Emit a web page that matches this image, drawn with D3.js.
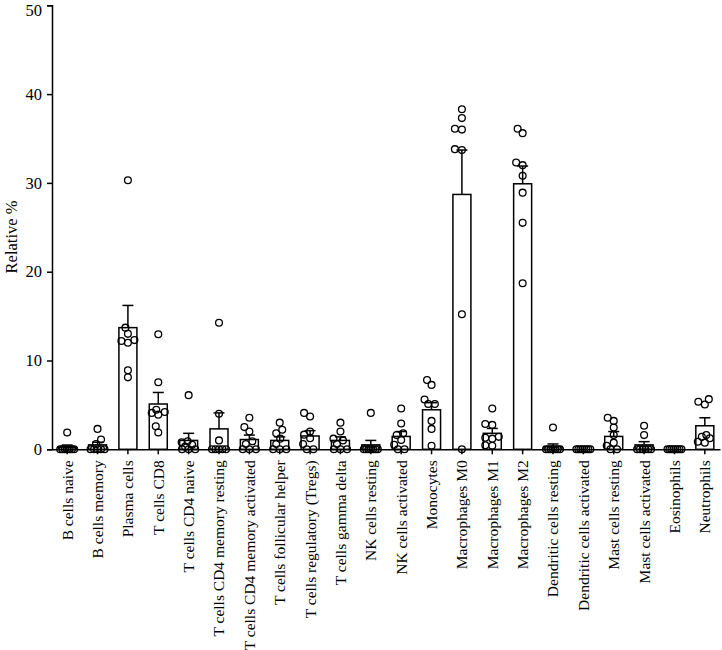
<!DOCTYPE html>
<html>
<head>
<meta charset="utf-8">
<script src="https://cdn.jsdelivr.net/npm/d3@7/dist/d3.min.js"></script>
<style>
  html, body { margin: 0; padding: 0; background: #fff; }
  svg { display: block; }
  text { font-family: "Liberation Serif", "Times New Roman", serif; fill: #000; }
</style>
</head>
<body>
<svg id="chart" width="722" height="650"></svg>
<script>
const categories = [
  "B cells naive", "B cells memory", "Plasma cells", "T cells CD8", "T cells CD4 naive",
  "T cells CD4 memory resting", "T cells CD4 memory activated", "T cells follicular helper",
  "T cells regulatory (Tregs)", "T cells gamma delta", "NK cells resting", "NK cells activated",
  "Monocytes", "Macrophages M0", "Macrophages M1", "Macrophages M2", "Dendritic cells resting",
  "Dendritic cells activated", "Mast cells resting", "Mast cells activated", "Eosinophils", "Neutrophils"
];

const means = [0.24, 0.5, 13.7, 5.1, 1.0, 2.3, 1.1, 1.0, 1.5, 1.0, 0.5, 1.45, 4.45, 28.7, 1.8, 29.9, 0.3, 0, 1.45, 0.5, 0, 2.65];
const sems  = [0.24, 0.3, 2.5, 1.3, 0.8, 1.8, 0.5, 0.4, 0.6, 0.4, 0.5, 0.55, 0.8, 5.0, 0.55, 2.0, 0.3, 0, 0.55, 0.36, 0, 0.9];

const points = [
  [1.9, 0, 0, 0, 0, 0, 0, 0],
  [2.3, 1.1, 0.6, 0, 0, 0, 0, 0],
  [30.3, 13.7, 13.0, 12.3, 12.2, 12.0, 8.9, 8.1],
  [12.95, 7.55, 4.45, 4.2, 3.9, 4.1, 2.6, 1.9],
  [6.1, 0.9, 0.8, 0.5, 0.3, 0, 0, 0],
  [14.25, 4.0, 1.0, 0, 0, 0, 0, 0],
  [3.55, 2.5, 2.0, 0.9, 0.6, 0, 0, 0],
  [3.0, 2.2, 1.8, 1.2, 0.6, 0, 0, 0],
  [4.1, 3.7, 2.0, 1.65, 1.25, 0.6, 0, 0],
  [3.0, 2.0, 1.2, 1.0, 0.6, 0, 0, 0],
  [4.1, 0, 0, 0, 0, 0, 0, 0],
  [4.6, 2.9, 1.8, 1.6, 1.05, 0.5, 0, 0],
  [7.8, 7.25, 5.6, 5.1, 5.1, 3.2, 2.3, 0.4],
  [38.3, 37.3, 36.0, 36.1, 33.7, 33.8, 15.2, 0],
  [4.6, 2.85, 2.75, 1.4, 1.3, 1.2, 0.45, 0.4],
  [35.6, 36.1, 32.0, 32.3, 30.8, 28.9, 25.5, 18.7],
  [2.45, 0, 0, 0, 0, 0, 0, 0],
  [0, 0, 0, 0, 0, 0, 0, 0],
  [3.55, 3.2, 2.45, 1.6, 0.75, 0.4, 0, 0],
  [2.65, 1.6, 0, 0, 0, 0, 0, 0],
  [0, 0, 0, 0, 0, 0, 0, 0],
  [5.65, 5.35, 5.05, 1.6, 1.4, 1.25, 0.85, 0.75]
];

const yTicks = [0, 10, 20, 30, 40, 50];
const yLabel = "Relative %";

const svg = d3.select("#chart");
const plotLeft = 52, plotRight = 720, plotTop = 5.3, plotBottom = 449.3;

const x = d3.scaleBand().domain(categories).range([plotLeft, plotRight]).paddingInner(0.4).paddingOuter(0.2);
const y = d3.scaleLinear().domain([0, 50]).range([plotBottom, plotTop]);

const cx = c => x(c) + x.bandwidth() / 2;
const barW = 18;
const r = 3.4;

// bars
svg.append("g").selectAll("rect").data(categories).join("rect")
  .attr("x", c => cx(c) - barW / 2)
  .attr("width", barW)
  .attr("y", (c, i) => y(means[i]))
  .attr("height", (c, i) => y(0) - y(means[i]))
  .attr("fill", "#fff")
  .attr("stroke", "#000")
  .attr("stroke-width", 1.5);

// error bars (upper only)
const eb = svg.append("g").attr("stroke", "#000").attr("stroke-width", 1.5);
categories.forEach((c, i) => {
  if (sems[i] <= 0) return;
  eb.append("line").attr("x1", cx(c)).attr("x2", cx(c))
    .attr("y1", y(means[i])).attr("y2", y(means[i] + sems[i]));
  eb.append("line").attr("x1", cx(c) - 5.5).attr("x2", cx(c) + 5.5)
    .attr("y1", y(means[i] + sems[i])).attr("y2", y(means[i] + sems[i]));
});

// beeswarm-like placement
function swarm(vals) {
  const d = 6.6, maxW = 7;
  const placed = [];
  const sorted = vals.map(v => ({ v, py: y(v) })).sort((a, b) => a.v - b.v);
  const groups = d3.groups(sorted, p => p.v);
  groups.forEach(([v, arr]) => {
    const n = arr.length;
    if (n > 1) {
      const sp = Math.min(d, (2 * maxW) / (n - 1));
      arr.forEach((p, k) => { p.dx = (k - (n - 1) / 2) * sp; placed.push(p); });
    } else {
      const p = arr[0];
      let best = 0, bestScore = -Infinity;
      for (let o = -maxW; o <= maxW + 0.001; o += 0.5) {
        let minD = Infinity;
        placed.forEach(q => { const dd = Math.hypot(o - q.dx, p.py - q.py); if (dd < minD) minD = dd; });
        const score = minD >= d ? 1000 - Math.abs(o) : minD - Math.abs(o) * 0.01;
        if (score > bestScore) { bestScore = score; best = o; }
      }
      p.dx = best; placed.push(p);
    }
  });
  return placed;
}

const pg = svg.append("g");
categories.forEach((c, i) => {
  const pts = swarm(points[i]);
  pg.append("g").selectAll("circle").data(pts).join("circle")
    .attr("cx", p => cx(c) + p.dx)
    .attr("cy", p => p.py)
    .attr("r", r)
    .attr("fill", "none")
    .attr("stroke", "#000")
    .attr("stroke-width", 1.3);
});

// y axis
const yAxis = svg.append("g").attr("transform", `translate(${plotLeft},0)`)
  .call(d3.axisLeft(y).tickValues(yTicks).tickSize(5).tickPadding(5));
yAxis.select(".domain").attr("stroke-width", 1.5);
yAxis.selectAll(".tick line").attr("stroke-width", 1.5);
yAxis.selectAll("text").style("font-family", '"Liberation Serif", serif').style("font-size", "16.5px")
  .attr("dy", d => d === 50 ? "0.6em" : "0.32em");

// x axis
const xAxis = svg.append("g").attr("transform", `translate(0,${plotBottom})`)
  .call(d3.axisBottom(x).tickSize(5).tickSizeOuter(0).tickPadding(4));
xAxis.select(".domain").attr("stroke-width", 1.5);
xAxis.selectAll(".tick line").attr("stroke-width", 1.5);
xAxis.selectAll("text")
  .style("font-family", '"Liberation Serif", serif').style("font-size", "15.5px")
  .attr("text-anchor", "end")
  .attr("transform", "rotate(-90)")
  .attr("x", -11).attr("y", 0).attr("dy", "0.35em");

// y label
svg.append("text")
  .attr("transform", `translate(17,237) rotate(-90)`)
  .attr("text-anchor", "middle")
  .style("font-size", "16.5px")
  .text(yLabel);
</script>
</body>
</html>
